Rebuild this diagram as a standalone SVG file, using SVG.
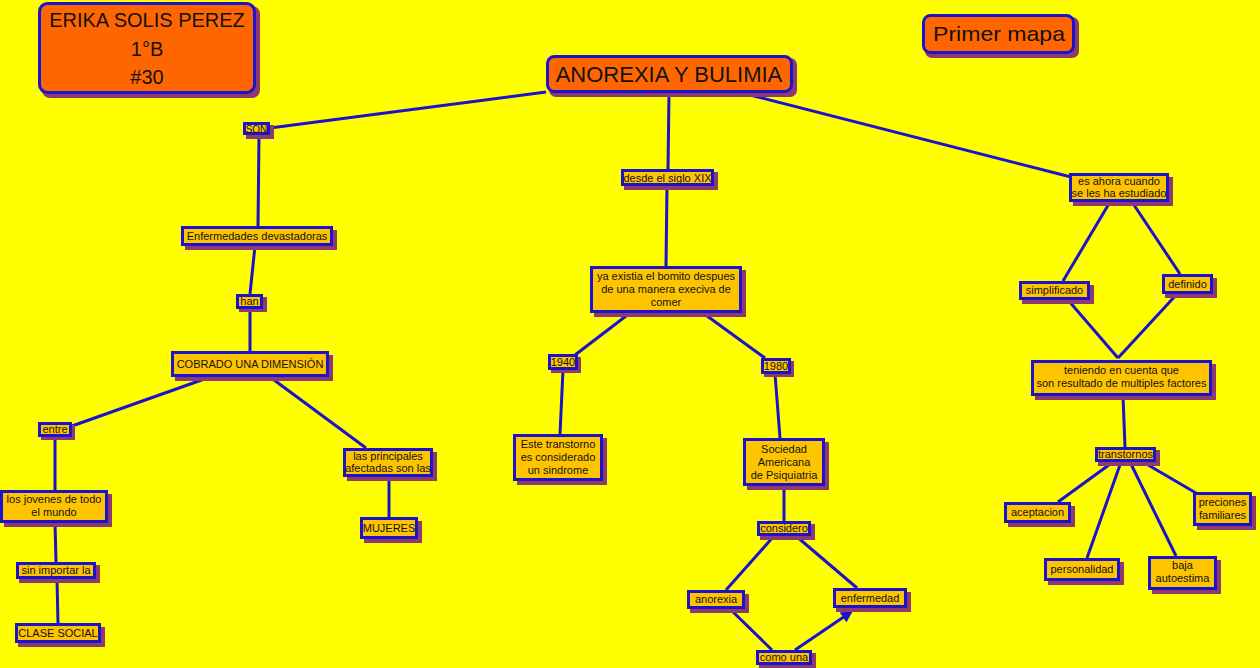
<svg xmlns="http://www.w3.org/2000/svg" width="1260" height="668" viewBox="0 0 1260 668">
<defs>
<style>
.bg{fill:#FFFF00}
.sh{fill:#8E3A6E}
.bx{fill:#FFC400;stroke:#1A12CC;stroke-width:3}
.big{fill:#FF6600;stroke:#1A12CC;stroke-width:3}
.t{font-family:"Liberation Sans",Arial,sans-serif;font-size:11px;fill:#111;text-anchor:middle}
.tb{font-family:"Liberation Sans",Arial,sans-serif;font-size:20px;fill:#111;text-anchor:middle}
.c{stroke:#1A12CC;stroke-width:3;fill:none}
</style>
<marker id="ah" viewBox="0 0 10 10" refX="8" refY="5" markerWidth="4" markerHeight="4" orient="auto" markerUnits="strokeWidth">
<path d="M0,0 L10,5 L0,10 z" fill="#1A12CC"/>
</marker>
</defs>
<rect class="bg" x="0" y="0" width="1260" height="668"/>
<g id="connectors">
<line class="c" x1="546" y1="92" x2="270" y2="128"/>
<line class="c" x1="259" y1="135" x2="258" y2="226"/>
<line class="c" x1="255" y1="246" x2="250" y2="294"/>
<line class="c" x1="250" y1="309" x2="250" y2="351"/>
<line class="c" x1="210" y1="377" x2="72" y2="426"/>
<line class="c" x1="270" y1="377" x2="366" y2="448"/>
<line class="c" x1="55" y1="437" x2="55" y2="490"/>
<line class="c" x1="55" y1="523" x2="56" y2="562"/>
<line class="c" x1="57" y1="579" x2="58" y2="623"/>
<line class="c" x1="389" y1="477" x2="389" y2="517"/>
<line class="c" x1="669" y1="93" x2="668" y2="169"/>
<line class="c" x1="667" y1="186" x2="666" y2="266"/>
<line class="c" x1="630" y1="313" x2="575" y2="355"/>
<line class="c" x1="703" y1="313" x2="765" y2="358"/>
<line class="c" x1="563" y1="370" x2="560" y2="434"/>
<line class="c" x1="775" y1="374" x2="780" y2="438"/>
<line class="c" x1="784" y1="486" x2="784" y2="521"/>
<line class="c" x1="774" y1="536" x2="726" y2="590"/>
<line class="c" x1="796" y1="536" x2="857" y2="588"/>
<line class="c" x1="730" y1="609" x2="772" y2="650"/>
<line class="c" x1="795" y1="650" x2="851" y2="612" marker-end="url(#ah)"/>
<line class="c" x1="750" y1="95" x2="1075" y2="178"/>
<line class="c" x1="1110" y1="202" x2="1063" y2="281"/>
<line class="c" x1="1132" y1="202" x2="1180" y2="274"/>
<line class="c" x1="1068" y1="300" x2="1118" y2="358"/>
<line class="c" x1="1177" y1="294" x2="1118" y2="358"/>
<line class="c" x1="1123" y1="396" x2="1125" y2="447"/>
<line class="c" x1="1113" y1="462" x2="1058" y2="502"/>
<line class="c" x1="1121" y1="462" x2="1087" y2="558"/>
<line class="c" x1="1130" y1="462" x2="1176" y2="556"/>
<line class="c" x1="1143" y1="462" x2="1196" y2="493"/>
</g>
<g id="n-erika">
<rect class="sh" x="42" y="6" width="218" height="92" rx="8"/>
<rect class="big" x="39.5" y="3.5" width="215" height="89" rx="8"/>
<text class="tb" x="147" y="27">ERIKA SOLIS PEREZ</text>
<text class="tb" x="147" y="56">1°B</text>
<text class="tb" x="147" y="84">#30</text>
</g>
<g id="n-title">
<rect class="sh" x="549" y="58" width="248" height="39" rx="7"/>
<rect class="big" x="547.5" y="56.5" width="244" height="35" rx="7"/>
<text class="tb" x="669" y="82" style="font-size:22px">ANOREXIA Y BULIMIA</text>
</g>
<g id="n-primer">
<rect class="sh" x="925" y="17" width="154" height="41" rx="7"/>
<rect class="big" x="923.5" y="15.5" width="150" height="37" rx="7"/>
<text class="tb" x="999" y="41" style="font-size:21px" textLength="132" lengthAdjust="spacingAndGlyphs">Primer mapa</text>
</g>
<g id="n-son">
<rect class="sh" x="246" y="125" width="28" height="14"/>
<rect class="bx" x="244.5" y="123.5" width="24" height="10"/>
<text class="t" x="256.5" y="132.5" style="font-size:10px">SON</text>
</g>
<g id="n-enf">
<rect class="sh" x="185" y="230" width="152" height="20"/>
<rect class="bx" x="182.5" y="227.5" width="149" height="17"/>
<text class="t" x="257" y="240">Enfermedades devastadoras</text>
</g>
<g id="n-han">
<rect class="sh" x="239" y="297" width="28" height="15"/>
<rect class="bx" x="237.5" y="295.5" width="24" height="12"/>
<text class="t" x="249.5" y="305">han</text>
</g>
<g id="n-cobrado">
<rect class="sh" x="175" y="355" width="158" height="26"/>
<rect class="bx" x="172.5" y="352.5" width="155" height="23"/>
<text class="t" x="250" y="368">COBRADO UNA DIMENSIÓN</text>
</g>
<g id="n-entre">
<rect class="sh" x="41" y="425" width="34" height="15"/>
<rect class="bx" x="39.5" y="423.5" width="31" height="12"/>
<text class="t" x="55" y="433">entre</text>
</g>
<g id="n-jovenes">
<rect class="sh" x="4" y="494" width="108" height="33"/>
<rect class="bx" x="1.5" y="491.5" width="105" height="30"/>
<text class="t" x="54" y="503">los jovenes de todo</text>
<text class="t" x="54" y="516">el mundo</text>
</g>
<g id="n-sin">
<rect class="sh" x="19" y="565" width="81" height="18"/>
<rect class="bx" x="17.5" y="563.5" width="77" height="14"/>
<text class="t" x="56" y="574">sin importar la</text>
</g>
<g id="n-clase">
<rect class="sh" x="18" y="627" width="87" height="20"/>
<rect class="bx" x="16.5" y="624.5" width="83" height="17"/>
<text class="t" x="58" y="637">CLASE SOCIAL</text>
</g>
<g id="n-principales">
<rect class="sh" x="347" y="452" width="90" height="29"/>
<rect class="bx" x="344.5" y="449.5" width="87" height="26"/>
<text class="t" x="388" y="460">las principales</text>
<text class="t" x="388" y="472">afectadas son las</text>
</g>
<g id="n-mujeres">
<rect class="sh" x="364" y="521" width="58" height="22"/>
<rect class="bx" x="361.5" y="518.5" width="55" height="19"/>
<text class="t" x="389" y="532">MUJERES</text>
</g>
<g id="n-desde">
<rect class="sh" x="624" y="172" width="94" height="18"/>
<rect class="bx" x="622.5" y="170.5" width="90" height="14"/>
<text class="t" x="667.5" y="181.5">desde el siglo XIX</text>
</g>
<g id="n-ya">
<rect class="sh" x="594" y="270" width="152" height="47"/>
<rect class="bx" x="591.5" y="267.5" width="149" height="44"/>
<text class="t" x="666" y="280">ya existia el bomito despues</text>
<text class="t" x="666" y="293">de una manera execiva de</text>
<text class="t" x="666" y="306">comer</text>
</g>
<g id="n-1940">
<rect class="sh" x="551" y="357" width="30" height="16"/>
<rect class="bx" x="549.5" y="355.5" width="27" height="13"/>
<text class="t" x="563" y="366">1940</text>
</g>
<g id="n-este">
<rect class="sh" x="517" y="438" width="90" height="47"/>
<rect class="bx" x="514.5" y="435.5" width="87" height="44"/>
<text class="t" x="558" y="448">Este transtorno</text>
<text class="t" x="558" y="461">es considerado</text>
<text class="t" x="558" y="474">un sindrome</text>
</g>
<g id="n-1980">
<rect class="sh" x="764" y="361" width="30" height="16"/>
<rect class="bx" x="762.5" y="359.5" width="27" height="13"/>
<text class="t" x="776" y="370">1980</text>
</g>
<g id="n-sociedad">
<rect class="sh" x="747" y="442" width="82" height="48"/>
<rect class="bx" x="744.5" y="439.5" width="79" height="45"/>
<text class="t" x="784" y="453">Sociedad</text>
<text class="t" x="784" y="466">Americana</text>
<text class="t" x="784" y="479">de Psiquiatria</text>
</g>
<g id="n-considero">
<rect class="sh" x="760" y="524" width="55" height="16"/>
<rect class="bx" x="758.5" y="522.5" width="51" height="12"/>
<text class="t" x="784" y="532">considero</text>
</g>
<g id="n-anorexia">
<rect class="sh" x="690" y="594" width="59" height="19"/>
<rect class="bx" x="688.5" y="591.5" width="55" height="16"/>
<text class="t" x="716" y="603">anorexia</text>
</g>
<g id="n-enfermedad">
<rect class="sh" x="836" y="592" width="75" height="20"/>
<rect class="bx" x="834.5" y="589.5" width="71" height="17"/>
<text class="t" x="870" y="602">enfermedad</text>
</g>
<g id="n-como">
<rect class="sh" x="759" y="653" width="57" height="15"/>
<rect class="bx" x="757.5" y="651.5" width="53" height="12"/>
<text class="t" x="784" y="661">como una</text>
</g>
<g id="n-esahora">
<rect class="sh" x="1073" y="177" width="100" height="29"/>
<rect class="bx" x="1070.5" y="174.5" width="97" height="26"/>
<text class="t" x="1119" y="185">es ahora cuando</text>
<text class="t" x="1119" y="197">se les ha estudiado</text>
</g>
<g id="n-simplificado">
<rect class="sh" x="1022" y="285" width="72" height="19"/>
<rect class="bx" x="1020.5" y="282.5" width="68" height="16"/>
<text class="t" x="1054.5" y="294">simplificado</text>
</g>
<g id="n-definido">
<rect class="sh" x="1165" y="278" width="52" height="20"/>
<rect class="bx" x="1163.5" y="275.5" width="48" height="17"/>
<text class="t" x="1187.5" y="288">definido</text>
</g>
<g id="n-teniendo">
<rect class="sh" x="1035" y="364" width="181" height="36"/>
<rect class="bx" x="1032.5" y="361.5" width="178" height="33"/>
<text class="t" x="1121.5" y="374">teniendo en cuenta que</text>
<text class="t" x="1121.5" y="387">son resultado de multiples factores</text>
</g>
<g id="n-transtornos">
<rect class="sh" x="1098" y="450" width="62" height="16"/>
<rect class="bx" x="1096.5" y="448.5" width="58" height="12"/>
<text class="t" x="1125.5" y="458">transtornos</text>
</g>
<g id="n-aceptacion">
<rect class="sh" x="1008" y="506" width="67" height="21"/>
<rect class="bx" x="1005.5" y="503.5" width="64" height="18"/>
<text class="t" x="1037.5" y="516">aceptacion</text>
</g>
<g id="n-preciones">
<rect class="sh" x="1197" y="496" width="59" height="34"/>
<rect class="bx" x="1194.5" y="493.5" width="56" height="31"/>
<text class="t" x="1222.5" y="506">preciones</text>
<text class="t" x="1222.5" y="519">familiares</text>
</g>
<g id="n-personalidad">
<rect class="sh" x="1048" y="562" width="76" height="23"/>
<rect class="bx" x="1045.5" y="559.5" width="73" height="20"/>
<text class="t" x="1082" y="573">personalidad</text>
</g>
<g id="n-baja">
<rect class="sh" x="1152" y="560" width="69" height="34"/>
<rect class="bx" x="1149.5" y="557.5" width="66" height="31"/>
<text class="t" x="1182.5" y="569">baja</text>
<text class="t" x="1182.5" y="582">autoestima</text>
</g>
</svg>
